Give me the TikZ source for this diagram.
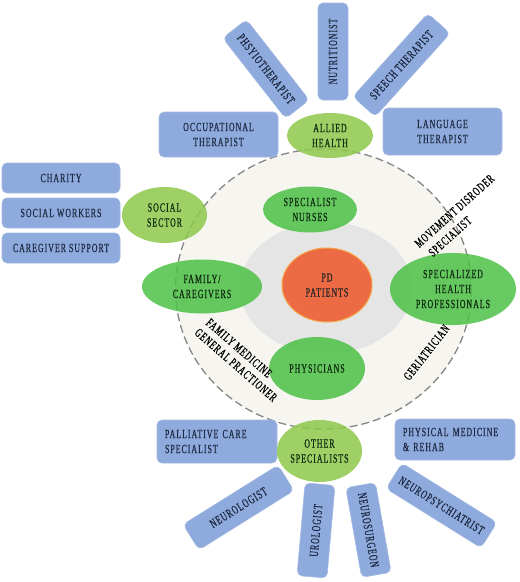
\documentclass[tikz,border=0pt]{standalone}
\usepackage{fontspec}
\setmainfont{Liberation Serif}[FakeStretch=0.63,LetterSpace=8,FakeBold=0.6]
\usetikzlibrary{shapes.geometric}
\definecolor{boxblue}{HTML}{8FAADC}
\definecolor{boxedge}{HTML}{A3B9E2}
\definecolor{boxtext}{HTML}{1F2B45}
\definecolor{lgreen}{HTML}{8DC84B}
\definecolor{mgreen}{HTML}{4CC146}
\definecolor{gtext}{HTML}{102A10}
\definecolor{porange}{HTML}{EC6A44}
\definecolor{porangeedge}{HTML}{F4A646}
\definecolor{beige}{HTML}{F7F5F0}
\definecolor{innergray}{HTML}{E5E5E5}
\definecolor{dashgray}{HTML}{858585}
\newcommand\dfont{\fontsize{12.5}{15}\selectfont}
\begin{document}
\begin{tikzpicture}[x=1pt,y=-1pt,
  bbox/.style={rectangle, rounded corners=5pt, fill=boxblue, draw=boxedge, line width=0.6pt,
    text=boxtext, inner sep=2pt, align=center, font=\dfont},
  ellnode/.style={ellipse, inner sep=0pt, align=center, font=\dfont, fill opacity=0.85, text opacity=1},
  lg/.style={ellnode, fill=lgreen, text=gtext},
  mg/.style={ellnode, fill=mgreen, text=gtext},
  rlabel/.style={font=\dfont, text=black, inner sep=0pt}
]
\useasboundingbox (0,0) rectangle (520,582);
% background circle and inner ellipse
\fill[beige] (323.5,289) ellipse [x radius=148, y radius=140];
\fill[innergray] (326,288) ellipse [x radius=86, y radius=66];
\draw[dashgray, line width=1.3pt, dash pattern=on 8pt off 4pt] (323.5,289) ellipse [x radius=148, y radius=140];

% left boxes
\node[bbox, minimum width=118, minimum height=30] (charity) at (61,178) {CHARITY};
\node[bbox, minimum width=118, minimum height=30] (socialw) at (61,213) {SOCIAL WORKERS};
\node[bbox, minimum width=118, minimum height=30] (careg) at (61,248) {CAREGIVER SUPPORT};

% top boxes
\node[bbox, minimum width=119, minimum height=45] (occup) at (218.5,134.5) {OCCUPATIONAL\\THERAPIST};
\node[bbox, minimum width=119, minimum height=47] (lang) at (442.5,131.5) {LANGUAGE\\THERAPIST};
\node[bbox, minimum width=97, minimum height=30, rotate=90] (nutri) at (333,51.5) {NUTRITIONIST};
\node[bbox, minimum width=102, minimum height=30, rotate=-52] (physio) at (266,69) {PHSYIOTHERAPIST};
\node[bbox, minimum width=112, minimum height=30, rotate=48] (speech) at (401.5,65) {SPEECH THERAPIST};

% bottom boxes
\node[bbox, minimum width=120, minimum height=43, align=left, text width=104] (pallia) at (217,441.5) {PALLIATIVE CARE\\SPECIALIST};
\node[bbox, minimum width=120, minimum height=41, align=left, text width=104] (physmed) at (455,439.5) {PHYSICAL MEDICINE\\\& REHAB};
\node[bbox, minimum width=112, minimum height=30, rotate=32] (neurol) at (238.5,507.5) {NEUROLOGIST};
\node[bbox, minimum width=93, minimum height=30, rotate=85] (urol) at (316,530.5) {UROLOGIST};
\node[bbox, minimum width=91, minimum height=30, rotate=-80] (neuros) at (368.5,530) {NEUROSURGEON};
\node[bbox, minimum width=112, minimum height=30, rotate=-32] (neurop) at (441.5,505.5) {NEUROPSYCHIATRIST};

% ellipses
\node[lg, minimum width=86, minimum height=45] (allied) at (330,135.5) {ALLIED\\HEALTH};
\node[lg, minimum width=85, minimum height=56] (social) at (164.5,215) {SOCIAL\\SECTOR};
\node[lg, minimum width=85, minimum height=62] (other) at (319.5,451) {OTHER\\SPECIALISTS};
\node[mg, minimum width=94, minimum height=46] (nurses) at (310,209.5) {SPECIALIST\\NURSES};
\node[mg, minimum width=96, minimum height=63] (phys) at (317,368.5) {PHYSICIANS};
\node[mg, minimum width=120, minimum height=54] (family) at (202,286.5) {FAMILY/\\CAREGIVERS};
\node[mg, minimum width=126, minimum height=72] (special) at (453,289) {SPECIALIZED\\HEALTH\\PROFESSIONALS};
\node[ellipse, fill=porange, draw=porangeedge, line width=1pt, minimum width=90, minimum height=74,
  inner sep=0pt, align=center, font=\dfont, text=black!85] (pd) at (327,285) {PD\\PATIENTS};

% rotated labels
\node[rlabel, rotate=42] (mov1) at (454.5,211) {MOVEMENT DISRODER};
\node[rlabel, rotate=42] (mov2) at (450,236.5) {SPECIALIST};
\node[rlabel, rotate=52] (geri) at (426.5,352.5) {GERIATRICIAN};
\node[rlabel, rotate=-41] (fam1) at (239,348) {FAMILY MEDICINE};
\node[rlabel, rotate=-41] (fam2) at (236,365) {GENERAL PRACTIONER};
\end{tikzpicture}
\end{document}
